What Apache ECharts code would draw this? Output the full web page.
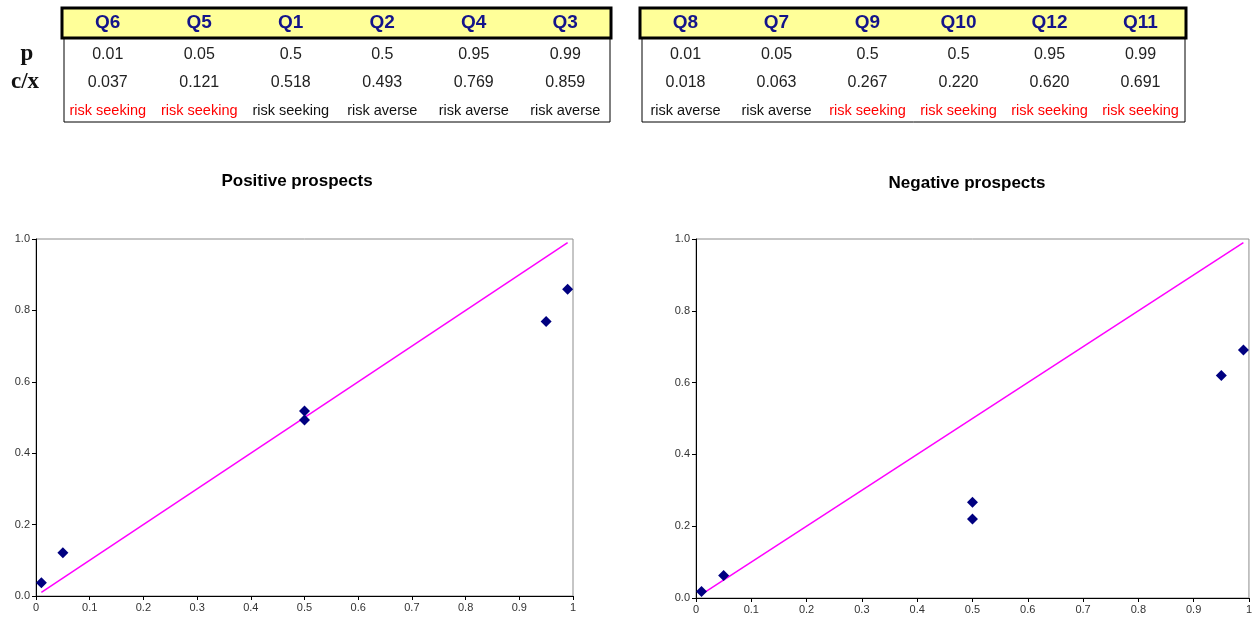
<!DOCTYPE html>
<html><head><meta charset="utf-8">
<script src="https://cdn.jsdelivr.net/npm/echarts@6/dist/echarts.min.js"></script>
<style>html,body{margin:0;padding:0;background:#fff}#c{width:1255px;height:618px}</style>
</head><body><div id="c"></div>
<script>
// ---- data ----
const posQuestions = ['Q6','Q5','Q1','Q2','Q4','Q3'];
const posP = [0.01, 0.05, 0.5, 0.5, 0.95, 0.99];
const posCX = [0.037, 0.121, 0.518, 0.493, 0.769, 0.859];
const posAttitude = ['risk seeking','risk seeking','risk seeking','risk averse','risk averse','risk averse'];
const posHighlight = [true, true, false, false, false, false];

const negQuestions = ['Q8','Q7','Q9','Q10','Q12','Q11'];
const negP = [0.01, 0.05, 0.5, 0.5, 0.95, 0.99];
const negCX = [0.018, 0.063, 0.267, 0.220, 0.620, 0.691];
const negAttitude = ['risk averse','risk averse','risk seeking','risk seeking','risk seeking','risk seeking'];
const negHighlight = [false, false, true, true, true, true];

const diagonal = [[0.01, 0.01], [0.99, 0.99]];
const titles = ['Positive prospects', 'Negative prospects'];

// ---- layout ----
const SANS = '"Liberation Sans", Arial, sans-serif';
const SERIF = '"Liberation Serif", "Times New Roman", serif';
const graphics = [];

function table(x0, width, qs, ps, cxs, atts, hl) {
  const colW = width / qs.length;
  graphics.push({type:'rect', shape:{x:x0+2, y:38, width:width-3, height:84},
    style:{fill:'#fff', stroke:'#000', lineWidth:1}});
  graphics.push({type:'rect', shape:{x:x0, y:8, width:width, height:30},
    style:{fill:'#ffff99', stroke:'#000', lineWidth:3}});
  qs.forEach((q, i) => {
    const cx = x0 + colW * (i + 0.5);
    graphics.push({type:'text', style:{text:q, x:cx, y:23, fill:'#14148a',
      font:'bold 19px ' + SANS, textAlign:'center', textVerticalAlign:'middle'}});
    graphics.push({type:'text', style:{text:String(ps[i]), x:cx, y:55, fill:'#222',
      font:'16px ' + SANS, textAlign:'center', textVerticalAlign:'middle'}});
    graphics.push({type:'text', style:{text:cxs[i].toFixed(3), x:cx, y:83, fill:'#222',
      font:'16px ' + SANS, textAlign:'center', textVerticalAlign:'middle'}});
    graphics.push({type:'text', style:{text:atts[i], x:cx, y:111, fill: hl[i] ? '#ff0000' : '#111',
      font:'14.5px ' + SANS, textAlign:'center', textVerticalAlign:'middle'}});
  });
}
table(62, 549, posQuestions, posP, posCX, posAttitude, posHighlight);
table(640, 546, negQuestions, negP, negCX, negAttitude, negHighlight);

graphics.push({type:'text', style:{text:'p', x:27, y:54, fill:'#111', font:'bold 23px ' + SERIF, textAlign:'center', textVerticalAlign:'middle'}});
graphics.push({type:'text', style:{text:'c/x', x:25, y:82, fill:'#111', font:'bold 23px ' + SERIF, textAlign:'center', textVerticalAlign:'middle'}});
graphics.push({type:'text', style:{text:titles[0], x:297, y:181, fill:'#000', font:'bold 17px ' + SANS, textAlign:'center', textVerticalAlign:'middle'}});
graphics.push({type:'text', style:{text:titles[1], x:967, y:183, fill:'#000', font:'bold 17px ' + SANS, textAlign:'center', textVerticalAlign:'middle'}});

const grids = [
  {left:36, top:239, width:537, height:357},
  {left:696, top:239, width:554, height:359}
];

function xAxis(i){
  return {type:'value', gridIndex:i, min:0, max:1, interval:0.1,
    axisLine:{show:true, onZero:false, lineStyle:{color:'#000', width:1}},
    axisTick:{show:true, inside:false, length:4, lineStyle:{color:'#000'}},
    splitLine:{show:false},
    axisLabel:{color:'#333', fontSize:11, fontFamily:SANS, margin:6,
      formatter: v => (Math.abs(v - Math.round(v)) < 1e-9 ? String(Math.round(v)) : v.toFixed(1))}};
}
function yAxis(i){
  return {type:'value', gridIndex:i, min:0, max:1, interval:0.2,
    axisLine:{show:true, onZero:false, lineStyle:{color:'#000', width:1}},
    axisTick:{show:true, inside:false, length:4, lineStyle:{color:'#000'}},
    splitLine:{show:false},
    axisLabel:{color:'#333', fontSize:11, fontFamily:SANS, margin:6, formatter: v => v.toFixed(1)}};
}

const option = {
  backgroundColor:'#fff',
  animation:false,
  grid: grids.map(g => Object.assign({show:true, borderColor:'#8c8c8c', borderWidth:1, backgroundColor:'transparent'}, g)),
  xAxis:[xAxis(0), xAxis(1)],
  yAxis:[yAxis(0), yAxis(1)],
  series:[
    {type:'line', xAxisIndex:0, yAxisIndex:0, data:diagonal, symbol:'none',
      lineStyle:{color:'#ff00ff', width:1.5}, z:2},
    {type:'scatter', xAxisIndex:0, yAxisIndex:0, data:posP.map((p,i)=>[p, posCX[i]]),
      symbol:'diamond', symbolSize:11, itemStyle:{color:'#000080', opacity:1}, z:3},
    {type:'line', xAxisIndex:1, yAxisIndex:1, data:diagonal, symbol:'none',
      lineStyle:{color:'#ff00ff', width:1.5}, z:2},
    {type:'scatter', xAxisIndex:1, yAxisIndex:1, data:negP.map((p,i)=>[p, negCX[i]]),
      symbol:'diamond', symbolSize:11, itemStyle:{color:'#000080', opacity:1}, z:3}
  ],
  graphic: graphics
};
const chart = echarts.init(document.getElementById('c'), null, {renderer:'canvas'});
chart.setOption(option);
</script>
</body></html>
